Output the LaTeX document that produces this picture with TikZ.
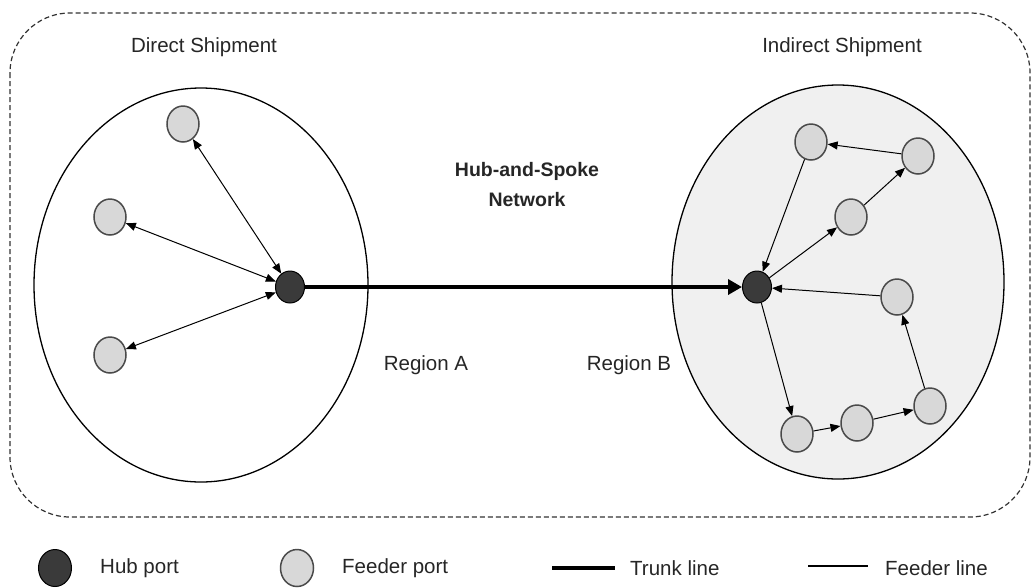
\documentclass[tikz,border=0pt]{standalone}
\usepackage{fontspec}
\setmainfont{Liberation Sans}
\usetikzlibrary{shapes.geometric,arrows.meta}
\definecolor{hubfill}{HTML}{3A3A3A}
\definecolor{feederfill}{HTML}{D8D8D8}
\definecolor{nodeline}{HTML}{4A4A4A}
\definecolor{regionfill}{HTML}{F0F0F0}
\tikzset{
  hubport/.style={ellipse,draw=black,line width=1pt,fill=hubfill,inner sep=0pt,minimum width=29pt,minimum height=32pt},
  feederport/.style={ellipse,draw=nodeline,line width=1.5pt,fill=feederfill,inner sep=0pt,minimum width=32pt,minimum height=36pt},
  region/.style={ellipse,draw=black,line width=1.3pt,inner sep=0pt},
  label/.style={font=\fontsize{20.5}{24}\selectfont,text=black!85,inner sep=0pt},
  boldlabel/.style={font=\fontsize{19.5}{30}\selectfont\bfseries,text=black!85,inner sep=0pt,align=center},
  feeder/.style={line width=1pt,-{Triangle[length=10pt,width=8pt]}},
  feederboth/.style={line width=1pt,{Triangle[length=10pt,width=8pt]}-{Triangle[length=10pt,width=8pt]}},
  trunk/.style={line width=4pt,-{Triangle[length=14pt,width=15pt]}},
  outline/.style={draw=black!80,line width=1.2pt,dash pattern=on 5pt off 3pt,rounded corners=60pt}
}
\begin{document}
\begin{tikzpicture}[x=1pt,y=-1pt]
\useasboundingbox (0,0) rectangle (1032,587);

% overall network boundary
\draw[outline] (10,13) rectangle (1030,517);

% regions
\node[region,minimum width=334pt,minimum height=394pt] (regA) at (201,285) {};
\node[region,fill=regionfill,minimum width=332pt,minimum height=394pt] (regB) at (838,282) {};

% titles and labels
\node[label] (tdirect) at (204,47) {Direct Shipment};
\node[label] (tindirect) at (842,47) {Indirect Shipment};
\node[boldlabel] (thub) at (527,185) {Hub-and-Spoke\\Network};
\node[label] (tregA) at (426,365) {Region A};
\node[label] (tregB) at (629,365) {Region B};

% region A ports
\node[hubport] (hubA) at (290,287) {};
\node[feederport] (a1) at (183,124) {};
\node[feederport] (a2) at (110,217) {};
\node[feederport] (a3) at (110,355) {};

% region B ports
\node[hubport] (hubB) at (757,287) {};
\node[feederport] (b1) at (811,142) {};
\node[feederport] (b2) at (918,156) {};
\node[feederport] (b3) at (851,217) {};
\node[feederport] (b4) at (897,297) {};
\node[feederport] (b5) at (930,406) {};
\node[feederport] (b6) at (857,423) {};
\node[feederport] (b7) at (797,434) {};

% direct feeder links
\draw[feederboth] (a1) -- (hubA);
\draw[feederboth] (a2) -- (hubA);
\draw[feederboth] (a3) -- (hubA);

% trunk line between hubs
\draw[trunk] (hubA) -- (hubB);

% indirect feeder loops
\draw[feeder] (b1) -- (hubB);
\draw[feeder] (b2) -- (b1);
\draw[feeder] (hubB) -- (b3);
\draw[feeder] (b3) -- (b2);
\draw[feeder] (b4) -- (hubB);
\draw[feeder] (hubB) -- (b7);
\draw[feeder] (b7) -- (b6);
\draw[feeder] (b6) -- (b5);
\draw[feeder] (b5) -- (b4);

% legend
\node[hubport,minimum width=33pt,minimum height=37pt] (lhub) at (55,568) {};
\node[label,anchor=west] (lhubt) at (100,568) {Hub port};
\node[feederport,minimum width=33pt,minimum height=37pt] (lfeed) at (297,568) {};
\node[label,anchor=west] (lfeedt) at (342,568) {Feeder port};
\coordinate (ltr1) at (552,568);
\coordinate (ltr2) at (615,568);
\draw[line width=4pt] (ltr1) -- (ltr2);
\node[label,anchor=west] (ltrt) at (630,568) {Trunk line};
\coordinate (lfl1) at (808,566);
\coordinate (lfl2) at (868,566);
\draw[line width=1.2pt] (lfl1) -- (lfl2);
\node[label,anchor=west] (lflt) at (885,568) {Feeder line};
\end{tikzpicture}
\end{document}
